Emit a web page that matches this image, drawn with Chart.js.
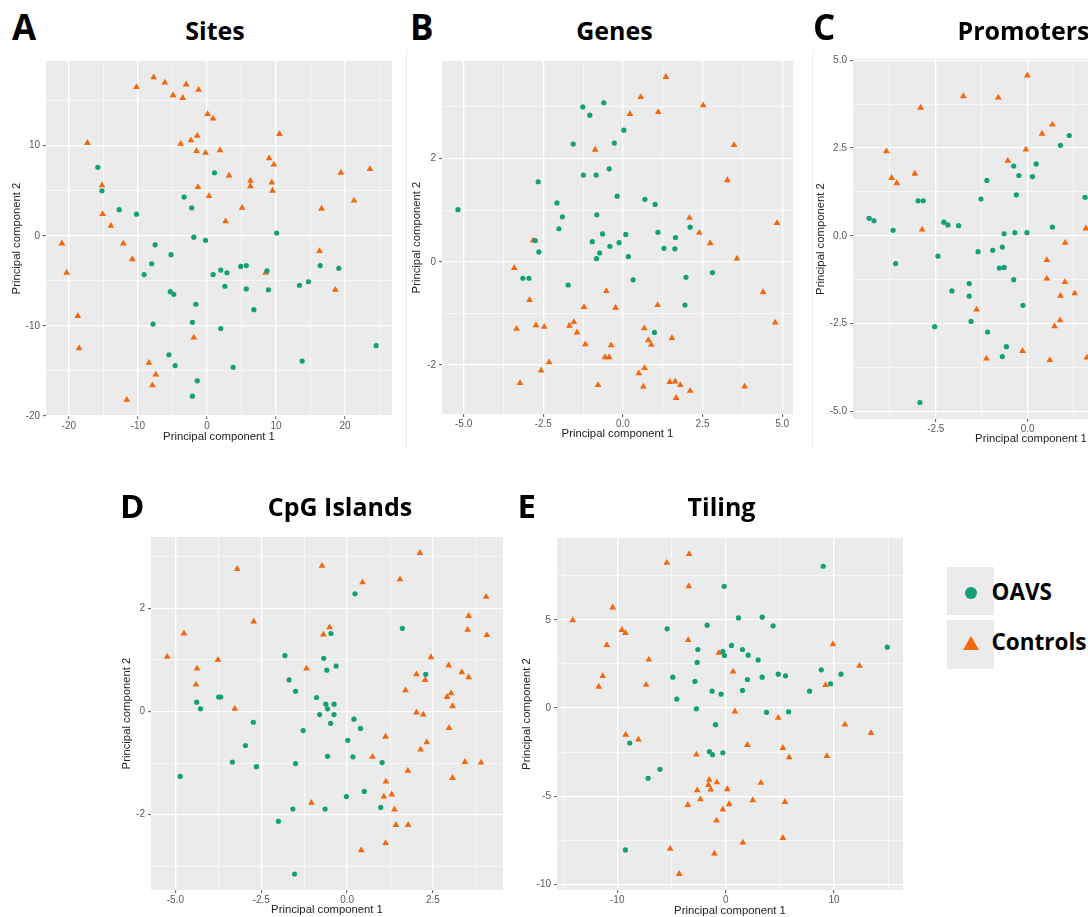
<!DOCTYPE html>
<html>
<head>
<meta charset="utf-8">
<script src="https://cdn.jsdelivr.net/npm/chart.js@4.4.1/dist/chart.umd.min.js"></script>
<style>
html,body{margin:0;padding:0;width:1088px;height:917px;overflow:hidden;background:#fff;position:relative;}
.t{position:absolute;font-family:'Open Sans',sans-serif;font-weight:700;line-height:1;white-space:nowrap;color:#000;}
.sep{position:absolute;background:#ececec;}
</style>
</head>
<body>
<script>
// ---------------- DATA ----------------
const seriesNames = ['OAVS', 'Controls'];

// A: Sites
const sitesOAVS = [[-15.8,7.6],[-15.2,5.0],[1.1,7.0],[-3.3,4.3],[-2.2,3.1],[-12.7,2.9],[-10.2,2.4],
 [-1.9,-0.15],[-0.2,-0.5],[10.1,0.3],[-7.5,-1.0],[-5.2,-2.1],[-8.0,-3.1],[-9.1,-4.3],[0.9,-4.3],[2.0,-3.8],[2.9,-4.1],
 [4.9,-3.4],[5.7,-3.3],[8.7,-3.9],[16.4,-3.3],[19.1,-3.6],[13.4,-5.5],[14.7,-5.1],[-5.3,-6.2],[-4.8,-6.5],[2.6,-5.6],
 [5.7,-5.9],[8.9,-6.0],[-1.6,-7.6],[6.8,-8.2],[-7.8,-9.8],[-2.1,-9.6],[2.0,-10.3],[24.5,-12.2],[-5.5,-13.2],[-4.6,-14.4],
 [3.8,-14.6],[13.8,-13.9],[-1.4,-16.1],[-2.1,-17.8]];
const sitesControls = [[-7.7,17.6],[-6.1,17.0],[-10.2,16.5],[-3.0,16.8],[-1.2,16.2],[-4.9,15.6],[-3.5,15.3],[0.1,13.5],
 [0.9,13.0],[10.5,11.3],[-17.3,10.3],[-1.4,11.1],[-2.3,10.6],[-3.8,10.2],[-1.5,9.4],[-0.2,9.2],[1.9,9.5],[9.0,8.6],
 [9.7,7.9],[23.6,7.4],[19.4,7.0],[3.2,6.7],[6.3,6.1],[6.3,5.5],[9.4,5.9],[9.5,5.0],[-15.2,5.6],[-1.3,5.4],[0.3,4.4],
 [21.3,3.9],[5.1,3.1],[16.6,3.0],[-15.1,2.4],[-13.9,1.1],[2.7,1.6],[-21.0,-0.85],[-12.1,-0.85],[-20.3,-4.1],[-10.8,-2.6],
 [16.3,-1.7],[8.5,-4.1],[18.6,-6.0],[-18.7,-8.9],[-18.5,-12.5],[-1.9,-11.3],[-8.4,-14.1],[-7.4,-15.4],[-7.9,-16.6],[-11.6,-18.2]];
const sitesXMajor = [-20,-10,0,10,20], sitesXLabels = ['-20','-10','0','10','20'], sitesXMinor = [-15,-5,5,15,25];
const sitesYMajor = [-20,-10,0,10], sitesYLabels = ['-20','-10','0','10'], sitesYMinor = [-15,-5,5,15];

// B: Genes
const genesOAVS = [[-0.60,3.08],[-1.26,3.00],[-1.04,2.84],[0.03,2.55],[-1.56,2.28],[-0.27,2.30],[-0.43,1.80],[-1.24,1.68],
 [-0.84,1.68],[-2.66,1.55],[-0.18,1.27],[0.69,1.21],[1.01,1.11],[-2.07,1.14],[-5.18,1.01],[-1.90,0.87],[-0.82,0.91],
 [2.11,0.67],[-2.01,0.64],[-0.64,0.54],[0.09,0.53],[1.10,0.57],[1.65,0.47],[-0.96,0.39],[-2.75,0.41],[-0.41,0.30],
 [-0.12,0.37],[1.29,0.26],[1.63,0.25],[-2.64,0.19],[-0.73,0.17],[-0.83,0.06],[0.17,0.10],[-3.14,-0.32],[-2.95,-0.32],
 [2.81,-0.21],[-1.72,-0.45],[0.32,-0.35],[1.98,-0.30],[1.95,-0.84],[0.99,-1.37]];
const genesControls = [[1.35,3.58],[0.56,3.19],[2.52,3.03],[0.22,2.86],[1.11,2.90],[-0.87,2.17],[3.49,2.26],[3.28,1.58],
 [2.09,0.85],[4.84,0.75],[-2.82,0.41],[2.40,0.56],[2.74,0.36],[3.58,0.06],[-3.41,-0.12],[-2.93,-0.74],[-0.52,-0.57],
 [4.40,-0.59],[-1.22,-0.88],[-0.23,-0.89],[1.09,-0.84],[-3.34,-1.30],[-2.73,-1.23],[-2.47,-1.26],[-1.68,-1.24],
 [-1.54,-1.17],[-1.44,-1.37],[4.78,-1.18],[0.67,-1.29],[1.54,-1.48],[0.80,-1.52],[0.89,-1.61],[-1.18,-1.60],[-0.37,-1.62],
 [-0.56,-1.85],[-0.43,-1.85],[-2.32,-1.95],[-2.57,-2.11],[0.50,-2.16],[0.68,-2.06],[-3.23,-2.35],[-0.78,-2.39],
 [0.64,-2.42],[1.47,-2.33],[1.64,-2.32],[1.80,-2.39],[2.11,-2.50],[1.67,-2.64],[3.82,-2.42]];
const genesXMajor = [-5,-2.5,0,2.5,5], genesXLabels = ['-5.0','-2.5','0.0','2.5','5.0'], genesXMinor = [-3.75,-1.25,1.25,3.75];
const genesYMajor = [-2,0,2], genesYLabels = ['-2','0','2'], genesYMinor = [-1,1,3];

// C: Promoters
const promOAVS = [[1.13,2.86],[0.89,2.58],[-0.38,1.99],[0.23,2.05],[-0.24,1.72],[0.13,1.69],[-1.11,1.58],[-0.31,1.17],
 [-1.27,1.05],[1.56,1.10],[-2.98,1.00],[-2.84,1.00],[-4.31,0.50],[-4.18,0.43],[-2.28,0.39],[-2.17,0.31],[-1.88,0.29],
 [0.67,0.25],[-3.66,0.16],[-0.64,0.06],[-0.35,0.09],[-0.02,0.09],[-3.59,-0.79],[-2.44,-0.58],[-1.35,-0.45],[-0.95,-0.41],
 [-0.69,-0.32],[-0.77,-0.92],[-0.64,-0.90],[-0.38,-1.25],[-1.59,-1.36],[-2.06,-1.57],[-1.59,-1.72],[-0.13,-1.98],
 [-1.54,-2.44],[-2.53,-2.59],[-1.09,-2.74],[-0.58,-3.16],[-0.69,-3.44],[-2.93,-4.75]];
const promControls = [[-0.01,4.57],[-1.75,3.98],[-0.80,3.94],[-2.91,3.65],[0.67,3.17],[0.39,2.91],[-3.84,2.41],[-0.05,2.46],
 [-0.54,2.14],[-3.70,1.65],[-3.56,1.50],[-3.07,1.77],[-2.87,0.18],[1.58,0.21],[1.02,-0.20],[0.52,-0.69],[0.52,-1.22],
 [1.01,-1.32],[1.28,-1.64],[0.89,-1.71],[-1.39,-2.10],[0.88,-2.41],[0.73,-2.58],[-0.14,-3.28],[-1.12,-3.50],[0.60,-3.54],[1.61,-3.47]];
const promXMajor = [-2.5,0,2.5], promXLabels = ['-2.5','0.0','2.5'], promXMinor = [-3.75,-1.25,1.25,3.75];
const promYMajor = [-5,-2.5,0,2.5,5], promYLabels = ['-5.0','-2.5','0.0','2.5','5.0'], promYMinor = [-3.75,-1.25,1.25,3.75];

// D: CpG Islands
const cpgOAVS = [[0.23,2.28],[1.61,1.61],[-0.47,1.51],[-1.81,1.08],[-0.68,1.03],[-0.32,0.88],[-0.59,0.80],[2.29,0.72],
 [-1.69,0.61],[-1.50,0.39],[-3.74,0.28],[-3.68,0.28],[-0.89,0.27],[-4.38,0.18],[-0.62,0.14],[-0.38,0.14],[-0.57,0.05],
 [-4.27,0.05],[-0.80,-0.06],[-0.38,-0.06],[-0.48,-0.23],[0.20,-0.15],[0.39,-0.33],[-2.73,-0.21],[-1.28,-0.37],[0.02,-0.56],
 [-2.96,-0.66],[-0.57,-0.87],[0.17,-0.88],[-3.34,-0.98],[-1.50,-1.01],[1.02,-0.99],[-2.64,-1.07],[-4.86,-1.26],[0.50,-1.55],
 [-0.02,-1.65],[0.98,-1.86],[-1.58,-1.89],[-0.64,-1.89],[-2.00,-2.13],[-1.53,-3.15]];
const cpgControls = [[2.12,3.07],[-3.20,2.76],[-0.73,2.82],[0.45,2.50],[1.54,2.56],[4.05,2.22],[3.54,1.85],[-2.72,1.74],
 [3.51,1.58],[4.07,1.48],[-4.75,1.51],[-0.51,1.63],[-0.69,1.49],[-5.24,1.06],[-3.76,1.00],[2.44,1.05],[-4.37,0.83],
 [-1.18,0.83],[2.96,0.89],[3.34,0.76],[2.02,0.72],[3.54,0.66],[2.27,0.61],[-4.40,0.52],[1.70,0.41],[3.03,0.35],[2.91,0.28],
 [3.07,0.10],[-3.27,0.05],[2.02,-0.02],[2.22,-0.06],[2.97,-0.32],[2.32,-0.60],[2.14,-0.74],[1.12,-0.49],[0.74,-0.88],
 [3.43,-0.98],[3.90,-0.99],[1.77,-1.15],[3.07,-1.29],[1.13,-1.36],[1.30,-1.61],[1.07,-1.65],[-1.04,-1.77],[1.38,-1.90],
 [1.42,-2.20],[1.78,-2.20],[1.12,-2.55],[0.41,-2.69]];
const cpgXMajor = [-5,-2.5,0,2.5], cpgXLabels = ['-5.0','-2.5','0.0','2.5'], cpgXMinor = [-3.75,-1.25,1.25,3.75];
const cpgYMajor = [-2,0,2], cpgYLabels = ['-2','0','2'], cpgYMinor = [-3,-1,1,3];

// E: Tiling
const tilingOAVS = [[9.0,8.04],[-0.14,6.90],[1.18,5.11],[3.37,5.15],[4.38,4.66],[-1.71,4.70],[-5.40,4.49],[14.91,3.45],
 [0.54,3.55],[-2.57,3.32],[1.55,3.32],[-0.26,3.21],[-0.11,2.98],[2.08,3.00],[3.0,2.73],[-2.63,2.59],[8.82,2.17],[4.85,1.92],
 [5.52,1.83],[10.64,1.92],[-4.88,1.75],[3.37,1.75],[2.01,1.62],[-2.84,1.51],[9.68,1.38],[-1.25,0.96],[-0.42,0.79],
 [1.55,1.00],[7.74,0.96],[-4.51,0.51],[-2.70,-0.04],[3.77,-0.24],[5.80,-0.21],[-0.94,-0.94],[-8.85,-1.98],[-1.50,-2.47],
 [-1.22,-2.64],[-0.26,-2.53],[-6.07,-3.47],[-7.16,-3.98],[-9.25,-8.04]];
const tilingControls = [[-3.37,8.73],[-5.43,8.23],[-3.40,6.90],[-10.42,5.70],[-14.11,4.98],[-9.58,4.43],[-9.25,4.26],
 [-10.97,3.57],[-3.46,3.85],[9.90,3.62],[-0.63,3.13],[-7.09,2.75],[12.35,2.39],[0.69,2.07],[-11.34,1.81],[-11.71,1.21],
 [-7.34,1.32],[9.22,1.30],[0.85,-0.19],[4.85,-0.55],[11.0,-0.94],[13.41,-1.42],[-9.22,-1.51],[-8.05,-1.79],[2.01,-2.09],
 [5.28,-2.26],[-2.70,-2.64],[5.86,-2.79],[9.34,-2.72],[-1.52,-4.07],[-0.81,-4.21],[3.25,-4.24],[-1.59,-4.36],[-2.63,-4.66],
 [-1.37,-4.62],[0.14,-4.60],[-2.33,-5.17],[2.51,-5.22],[5.47,-5.32],[-3.49,-5.49],[0.32,-5.45],[-0.26,-5.75],[-0.85,-6.38],
 [5.28,-7.36],[1.59,-7.62],[-5.12,-7.98],[-1.03,-8.25],[-4.29,-9.40]];
const tilingXMajor = [-10,0,10], tilingXLabels = ['-10','0','10'], tilingXMinor = [-15,-5,5,15];
const tilingYMajor = [-10,-5,0,5], tilingYLabels = ['-10','-5','0','5'], tilingYMinor = [-7.5,-2.5,2.5,7.5];

// ---------------- STYLE / LAYOUT ----------------
const GREEN = '#13A079', ORANGE = '#F2680F';
const AXIS_FONT = "'Liberation Sans', Arial, sans-serif";
const TITLE_SIZE = 11.3, TICK_SIZE = 10;

const panels = [
  {letter:'A', title:'Sites', oavs:sitesOAVS, ctrl:sitesControls, xr:[-23.3,26.8], yr:[-20.0,19.4],
   xMaj:sitesXMajor, xLab:sitesXLabels, xMin:sitesXMinor, yMaj:sitesYMajor, yLab:sitesYLabels, yMin:sitesYMinor,
   plot:{l:46,t:61,r:392,b:416}, yTitleX:16.8, xTitleY:437, letterPos:[12,9,35], titlePos:[215,17.6]},
  {letter:'B', title:'Genes', oavs:genesOAVS, ctrl:genesControls, xr:[-5.68,5.34], yr:[-2.95,3.89],
   xMaj:genesXMajor, xLab:genesXLabels, xMin:genesXMinor, yMaj:genesYMajor, yLab:genesYLabels, yMin:genesYMinor,
   plot:{l:442,t:61,r:793,b:414}, yTitleX:416.8, xTitleY:434, letterPos:[410,9,35], titlePos:[614.5,17.6]},
  {letter:'C', title:'Promoters', oavs:promOAVS, ctrl:promControls, xr:[-4.75,4.93], yr:[-5.22,5.04],
   xMaj:promXMajor, xLab:promXLabels, xMin:promXMinor, yMaj:promYMajor, yLab:promYLabels, yMin:promYMinor,
   plot:{l:853,t:59,r:1209,b:419}, yTitleX:820.8, xTitleY:439, letterPos:[813,9,35], titlePos:[1023.5,17.6]},
  {letter:'D', title:'CpG Islands', oavs:cpgOAVS, ctrl:cpgControls, xr:[-5.71,4.54], yr:[-3.46,3.38],
   xMaj:cpgXMajor, xLab:cpgXLabels, xMin:cpgXMinor, yMaj:cpgYMajor, yLab:cpgYLabels, yMin:cpgYMinor,
   plot:{l:151,t:537,r:503,b:890}, yTitleX:126.8, xTitleY:910.5, letterPos:[120,489,33], titlePos:[340,493.6]},
  {letter:'E', title:'Tiling', oavs:tilingOAVS, ctrl:tilingControls, xr:[-15.56,16.36], yr:[-10.31,9.64],
   xMaj:tilingXMajor, xLab:tilingXLabels, xMin:tilingXMinor, yMaj:tilingYMajor, yLab:tilingYLabels, yMin:tilingYMinor,
   plot:{l:557,t:538,r:903,b:890}, yTitleX:526.8, xTitleY:911, letterPos:[517.5,489,33], titlePos:[721.5,493.6]}
];

const bgPlugin = {
  id: 'panelBg',
  beforeDraw(chart) {
    const {ctx, chartArea: a} = chart;
    ctx.save();
    ctx.fillStyle = '#EBEBEB';
    ctx.fillRect(a.left, a.top, a.right - a.left, a.bottom - a.top);
    ctx.restore();
  }
};

const near = (a, b) => Math.abs(a - b) < 1e-9;
function isMajor(v, maj) { return maj.some(m => near(m, v)); }
function labelOf(v, maj, lab) { const i = maj.findIndex(m => near(m, v)); return i >= 0 ? lab[i] : ''; }

function axis(kind, p) {
  const maj = kind === 'x' ? p.xMaj : p.yMaj;
  const lab = kind === 'x' ? p.xLab : p.yLab;
  const min = kind === 'x' ? p.xMin : p.yMin;
  const range = kind === 'x' ? p.xr : p.yr;
  const th = TITLE_SIZE * 1.2 / 2;
  const xAxisH = Math.round(p.xTitleY + th - p.plot.b);
  const cl = Math.round(p.yTitleX - th);
  const yAxisW = p.plot.l - cl;
  return {
    type: 'linear',
    position: kind === 'x' ? 'bottom' : 'left',
    min: range[0], max: range[1],
    afterBuildTicks: s => { s.ticks = [...maj, ...min].sort((a, b) => a - b).map(v => ({value: v})); },
    afterFit: s => { if (kind === 'x') s.height = xAxisH; else s.width = yAxisW; },
    ticks: {
      autoSkip: false, maxRotation: 0, minRotation: 0, includeBounds: false,
      padding: kind === 'x' ? 1 : 3,
      color: '#5a5a5a',
      font: {family: AXIS_FONT, size: TICK_SIZE},
      callback: v => labelOf(v, maj, lab)
    },
    grid: {
      color: '#ffffff',
      lineWidth: c => (c.tick && isMajor(c.tick.value, maj)) ? 1.3 : 0.6,
      tickColor: c => (c.tick && isMajor(c.tick.value, maj)) ? '#555555' : 'rgba(0,0,0,0)',
      tickLength: 3, tickWidth: 1, drawTicks: true
    },
    border: {display: false},
    title: {
      display: true,
      text: kind === 'x' ? 'Principal component 1' : 'Principal component 2',
      color: '#222222', padding: 0,
      font: {family: AXIS_FONT, size: TITLE_SIZE}
    }
  };
}

function addText(txt, left, top, size, center) {
  const d = document.createElement('div');
  d.className = 't';
  d.textContent = txt;
  d.style.left = left + 'px';
  d.style.top = top + 'px';
  d.style.fontSize = size + 'px';
  if (center) d.style.transform = 'translateX(-50%)';
  document.body.appendChild(d);
}

panels.forEach(p => {
  const padTop = 10, padRight = 10;
  const th = TITLE_SIZE * 1.2 / 2;
  const cl = Math.round(p.yTitleX - th);
  const ct = p.plot.t - padTop;
  const xAxisH = Math.round(p.xTitleY + th - p.plot.b);
  const w = p.plot.r + padRight - cl;
  const h = p.plot.b + xAxisH - ct;
  const cv = document.createElement('canvas');
  cv.width = w; cv.height = h;
  cv.style.cssText = `position:absolute;left:${cl}px;top:${ct}px;width:${w}px;height:${h}px;`;
  document.body.appendChild(cv);
  new Chart(cv, {
    type: 'scatter',
    data: {
      datasets: [
        {label: seriesNames[0], data: p.oavs.map(([x, y]) => ({x, y})), pointStyle: 'circle',
         pointRadius: 2.6, backgroundColor: GREEN, borderColor: GREEN, borderWidth: 0, pointBorderWidth: 0},
        {label: seriesNames[1], data: p.ctrl.map(([x, y]) => ({x, y})), pointStyle: 'triangle',
         pointRadius: 3.9, backgroundColor: ORANGE, borderColor: ORANGE, borderWidth: 0, pointBorderWidth: 0}
      ]
    },
    options: {
      responsive: false, animation: false, devicePixelRatio: 1,
      layout: {padding: {top: padTop, right: padRight, left: 0, bottom: 0}},
      plugins: {legend: {display: false}, tooltip: {enabled: false}, title: {display: false}},
      scales: {x: axis('x', p), y: axis('y', p)}
    },
    plugins: [bgPlugin]
  });
  addText(p.letter, p.letterPos[0], p.letterPos[1], p.letterPos[2], false);
  addText(p.title, p.titlePos[0], p.titlePos[1], 25, true);
});

// faint panel separators
[[406, 50, 1, 400], [812, 50, 1, 400]].forEach(([l, t, w, h]) => {
  const s = document.createElement('div'); s.className = 'sep';
  s.style.cssText += `left:${l}px;top:${t}px;width:${w}px;height:${h}px;`;
  document.body.appendChild(s);
});

// legend
const lg = [
  {name: seriesNames[0], top: 567, h: 48, mark: 'circle'},
  {name: seriesNames[1], top: 620, h: 49, mark: 'triangle'}
];
lg.forEach((it, i) => {
  const box = document.createElement('div');
  box.style.cssText = `position:absolute;left:947px;top:${it.top}px;width:47px;height:${it.h}px;background:#EBEBEB;`;
  document.body.appendChild(box);
  const m = document.createElement('div');
  if (it.mark === 'circle') {
    m.style.cssText = `position:absolute;left:965px;top:586.5px;width:12px;height:12px;border-radius:50%;background:${GREEN};`;
  } else {
    m.style.cssText = `position:absolute;left:963px;top:636px;width:0;height:0;border-left:8px solid transparent;border-right:8px solid transparent;border-bottom:14px solid ${ORANGE};`;
  }
  document.body.appendChild(m);
  addText(it.name, 991.5, i === 0 ? 581 : 631, 22.5, false);
});
</script>
</body>
</html>
